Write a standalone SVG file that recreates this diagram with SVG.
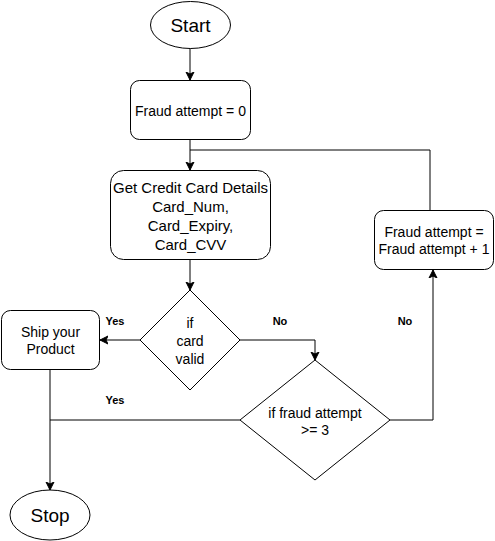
<svg xmlns="http://www.w3.org/2000/svg" width="495" height="541" viewBox="0 0 495 541">
<style>
.s{fill:#fff;stroke:#000;stroke-width:1}
.e{fill:none;stroke:#000;stroke-width:1}
.t{font-family:"Liberation Sans",Arial,sans-serif;font-size:14px;fill:#000;text-anchor:middle}
.b{font-family:"Liberation Sans",Arial,sans-serif;font-size:11px;font-weight:bold;fill:#000;text-anchor:middle}
</style>
<defs>
<marker id="a" markerWidth="10" markerHeight="10" refX="8" refY="5" orient="auto" markerUnits="userSpaceOnUse">
<path d="M0,1 L8,5 L0,9 L2,5 Z" fill="#000" stroke="#000" stroke-width="1"/>
</marker>
</defs>
<rect width="495" height="541" fill="#fff"/>
<g id="connectors">
<path class="e" d="M190,48 V80" marker-end="url(#a)"/>
<path class="e" d="M190,140 V170" marker-end="url(#a)"/>
<path class="e" d="M430,210 V150 H190"/>
<path class="e" d="M190,260 V290" marker-end="url(#a)"/>
<path class="e" d="M140,340 H100" marker-end="url(#a)"/>
<path class="e" d="M240,340 H315 V360" marker-end="url(#a)"/>
<path class="e" d="M390,420 H433 V270" marker-end="url(#a)"/>
<path class="e" d="M240,420 H50"/>
<path class="e" d="M50,370 V490" marker-end="url(#a)"/>
<text class="b" x="115" y="325">Yes</text>
<text class="b" x="115" y="404">Yes</text>
<text class="b" x="280" y="325">No</text>
<text class="b" x="405" y="325">No</text>
</g>
<g id="start">
<ellipse class="s" cx="190.5" cy="25" rx="40" ry="23.5"/>
<text class="t" x="190.5" y="32" style="font-size:19px">Start</text>
</g>
<g id="init">
<rect class="s" x="130.5" y="80.5" width="120" height="59" rx="9"/>
<text class="t" x="190.5" y="116">Fraud attempt = 0</text>
</g>
<g id="getcard">
<rect class="s" x="110.5" y="170.5" width="160" height="89" rx="13"/>
<text class="t" x="190.5" style="font-size:15px"><tspan x="190.5" y="193">Get Credit Card Details</tspan><tspan x="190.5" y="212">Card_Num,</tspan><tspan x="190.5" y="231">Card_Expiry,</tspan><tspan x="190.5" y="250">Card_CVV</tspan></text>
</g>
<g id="valid">
<path class="s" d="M190,290 L240,340 L190,390 L140,340 Z"/>
<text class="t"><tspan x="190" y="328">if</tspan><tspan x="190" y="346">card</tspan><tspan x="190" y="364">valid</tspan></text>
</g>
<g id="ship">
<rect class="s" x="1.5" y="310.5" width="98" height="59" rx="9"/>
<text class="t"><tspan x="50.5" y="337">Ship your</tspan><tspan x="50.5" y="354">Product</tspan></text>
</g>
<g id="fraudcheck">
<path class="s" d="M315,360 L390,420 L315,480 L240,420 Z"/>
<text class="t"><tspan x="315" y="418">if fraud attempt</tspan><tspan x="315" y="435">&gt;= 3</tspan></text>
</g>
<g id="increment">
<rect class="s" x="374.5" y="210.5" width="119" height="59" rx="9"/>
<text class="t"><tspan x="434" y="237">Fraud attempt =</tspan><tspan x="434" y="254">Fraud attempt + 1</tspan></text>
</g>
<g id="stop">
<ellipse class="s" cx="50" cy="515" rx="40" ry="25"/>
<text class="t" x="50" y="522" style="font-size:19px">Stop</text>
</g>
</svg>
